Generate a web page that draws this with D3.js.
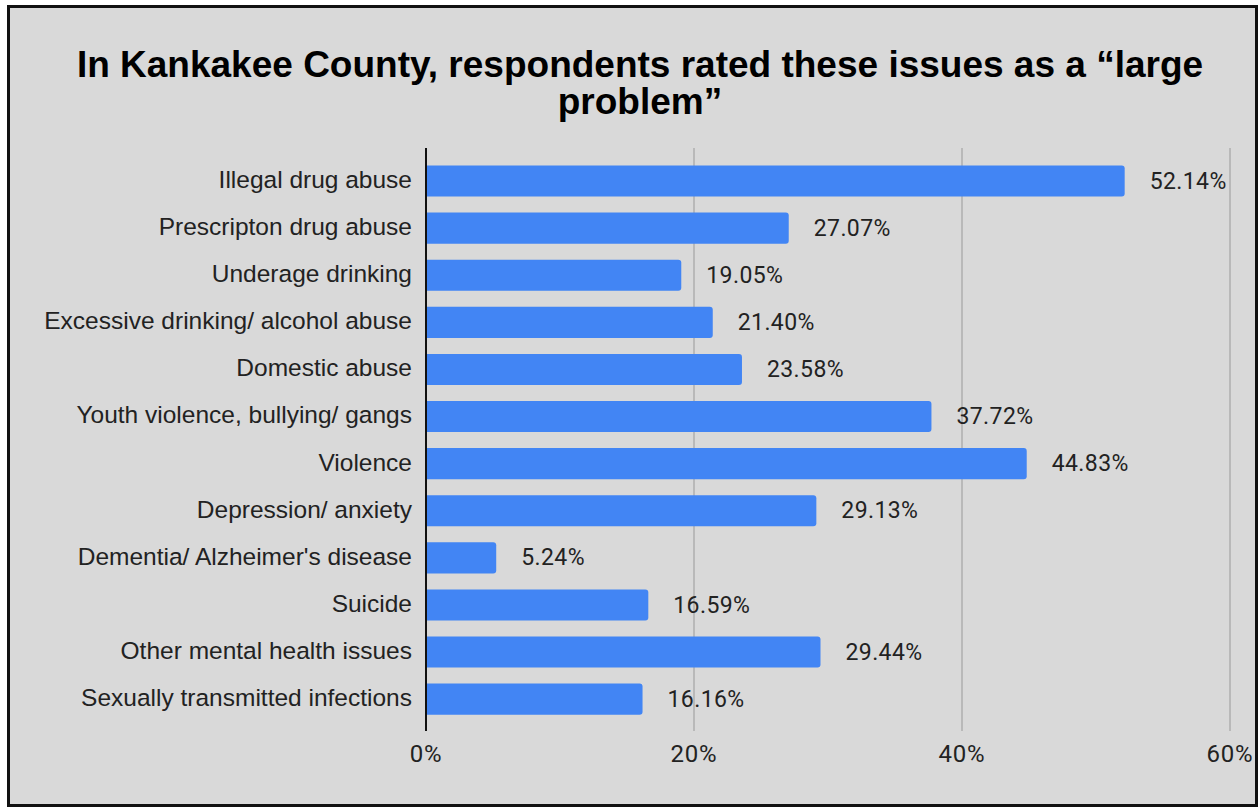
<!DOCTYPE html>
<html><head><meta charset="utf-8">
<script src="https://cdn.jsdelivr.net/npm/d3@7"></script>
<style>body{margin:0;background:#fff}svg{display:block}</style>
</head><body>
<script>
const categories = ["Illegal drug abuse","Prescripton drug abuse","Underage drinking","Excessive drinking/ alcohol abuse","Domestic abuse","Youth violence, bullying/ gangs","Violence","Depression/ anxiety","Dementia/ Alzheimer's disease","Suicide","Other mental health issues","Sexually transmitted infections"];
const values = [52.14,27.07,19.05,21.40,23.58,37.72,44.83,29.13,5.24,16.59,29.44,16.16];
const ticks = [0,20,40,60];
const titleLines = ["In Kankakee County, respondents rated these issues as a \u201clarge","problem\u201d"];

const W=1260,H=808;
const svg=d3.select("body").append("svg").attr("width",W).attr("height",H);
svg.append("rect").attr("width",W).attr("height",H).attr("fill","#fff");
svg.append("rect").attr("x",8.5).attr("y",6.5).attr("width",1248).attr("height",799)
  .attr("fill","#d9d9d9").attr("stroke","#111").attr("stroke-width",3);

svg.selectAll("text.title").data(titleLines).join("text").attr("class","title")
  .attr("x",640).attr("y",(d,i)=>77+i*37).attr("text-anchor","middle")
  .attr("font-family","Liberation Sans, Arial, sans-serif").attr("font-weight","bold")
  .attr("font-size",37).attr("fill","#000").text(d=>d);

const x=d3.scaleLinear().domain([0,60]).range([426,1230]);
const y=d3.scaleBand().domain(categories).range([157.5,722.7]).paddingInner(0.34).paddingOuter(0.17);

const g=svg.append("g");
g.selectAll("line.grid").data(ticks.filter(t=>t>0)).join("line").attr("class","grid")
  .attr("x1",d=>x(d)).attr("x2",d=>x(d)).attr("y1",148).attr("y2",731)
  .attr("stroke","#a8a8a8").attr("stroke-width",1.3);

g.selectAll("path.bar").data(values).join("path").attr("class","bar")
  .attr("fill","#4285f4")
  .attr("d",(d,i)=>{const x0=x(0),x1=x(d),y0=y(categories[i]),h=y.bandwidth(),r=3;
    return `M${x0},${y0}H${x1-r}Q${x1},${y0} ${x1},${y0+r}V${y0+h-r}Q${x1},${y0+h} ${x1-r},${y0+h}H${x0}Z`;});

g.append("line").attr("x1",x(0)).attr("x2",x(0)).attr("y1",148).attr("y2",731)
  .attr("stroke","#111").attr("stroke-width",2);

g.selectAll("text.val").data(values).join("text").attr("class","val")
  .attr("x",d=>x(d)+25).attr("y",(d,i)=>y(categories[i])+y.bandwidth()/2).attr("dy","0.33em")
  .attr("font-family","Roboto, sans-serif").attr("font-size",23).attr("letter-spacing",0.4).attr("fill","#222")
  .text(d=>d.toFixed(2)+"%");

g.selectAll("text.cat").data(categories).join("text").attr("class","cat")
  .attr("x",412).attr("y",d=>y(d)+y.bandwidth()/2).attr("dy","0.28em").attr("text-anchor","end")
  .attr("font-family","Liberation Sans, Arial, sans-serif").attr("font-size",24.5).attr("fill","#222")
  .text(d=>d);

g.selectAll("text.tick").data(ticks).join("text").attr("class","tick")
  .attr("x",d=>x(d)).attr("y",762).attr("text-anchor","middle")
  .attr("font-family","Roboto, sans-serif").attr("font-size",24).attr("letter-spacing",0.8).attr("fill","#222")
  .text(d=>d+"%");
</script>
</body></html>
